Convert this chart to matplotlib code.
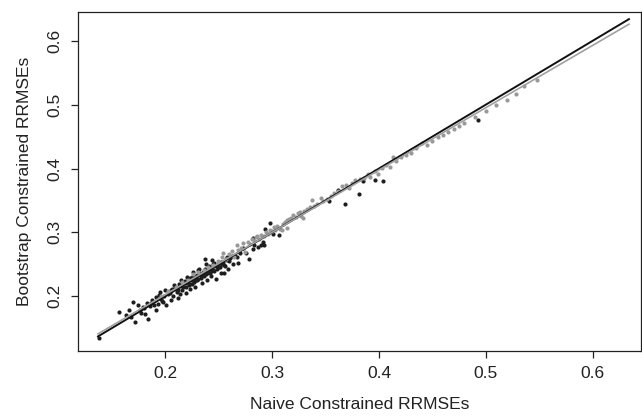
import matplotlib
matplotlib.use("Agg")
import matplotlib.pyplot as plt

plt.rcParams['font.family'] = ['Liberation Sans', 'DejaVu Sans']

# Black series (x = naive, y = bootstrap)
black_x = [0.138, 0.157, 0.163, 0.166, 0.170, 0.172, 0.174, 0.177, 0.180, 0.183, 0.184, 0.188, 0.191, 0.191,
           0.195, 0.198, 0.205, 0.214, 0.223, 0.230, 0.168, 0.176, 0.181, 0.186, 0.189, 0.193, 0.196, 0.199,
           0.201, 0.203, 0.205, 0.207, 0.209, 0.211, 0.212, 0.214, 0.216, 0.218, 0.219, 0.221, 0.222, 0.224,
           0.225, 0.226, 0.227, 0.228, 0.229, 0.231, 0.232, 0.233, 0.234, 0.235, 0.236, 0.237, 0.238, 0.239,
           0.240, 0.241, 0.242, 0.243, 0.244, 0.245, 0.246, 0.247, 0.248, 0.250, 0.251, 0.252, 0.254, 0.255,
           0.256, 0.258, 0.259, 0.261, 0.263, 0.265, 0.267, 0.268, 0.270, 0.273, 0.276, 0.278, 0.282, 0.283,
           0.287, 0.290, 0.291, 0.292, 0.282, 0.293, 0.298, 0.301, 0.306, 0.353, 0.362, 0.368, 0.381, 0.385,
           0.396, 0.404, 0.493, 0.200, 0.208, 0.215, 0.220, 0.226, 0.232, 0.238, 0.244, 0.213, 0.219, 0.223,
           0.229, 0.234, 0.243, 0.249, 0.253, 0.237,
           0.204, 0.206, 0.210, 0.212, 0.215, 0.217, 0.220, 0.222, 0.224, 0.227, 0.228, 0.230, 0.233, 0.235,
           0.237, 0.239, 0.241, 0.242, 0.245, 0.247, 0.250, 0.252, 0.255, 0.257, 0.260, 0.262, 0.197, 0.194,
           0.187, 0.179, 0.218, 0.231, 0.246, 0.258]
black_y = [0.134, 0.175, 0.170, 0.178, 0.191, 0.160, 0.186, 0.173, 0.181, 0.189, 0.165, 0.194, 0.199, 0.178,
           0.207, 0.191, 0.194, 0.204, 0.212, 0.225, 0.168, 0.178, 0.172, 0.184, 0.186, 0.188, 0.196, 0.200,
           0.186, 0.203, 0.209, 0.200, 0.213, 0.207, 0.197, 0.216, 0.210, 0.220, 0.205, 0.223, 0.217, 0.226,
           0.219, 0.231, 0.222, 0.214, 0.232, 0.227, 0.236, 0.229, 0.220, 0.238, 0.232, 0.243, 0.235, 0.226,
           0.240, 0.247, 0.236, 0.231, 0.244, 0.250, 0.239, 0.227, 0.243, 0.252, 0.246, 0.236, 0.254, 0.236,
           0.248, 0.256, 0.243, 0.260, 0.250, 0.263, 0.262, 0.252, 0.268, 0.275, 0.267, 0.259, 0.274, 0.280,
           0.277, 0.280, 0.285, 0.280, 0.291, 0.306, 0.314, 0.297, 0.296, 0.349, 0.366, 0.344, 0.360, 0.380,
           0.382, 0.380, 0.476, 0.210, 0.218, 0.225, 0.230, 0.238, 0.243, 0.250, 0.257, 0.219, 0.214, 0.228,
           0.226, 0.233, 0.240, 0.247, 0.251, 0.259,
           0.205, 0.211, 0.212, 0.209, 0.218, 0.214, 0.222, 0.219, 0.229, 0.224, 0.230, 0.233, 0.231, 0.234,
           0.240, 0.237, 0.242, 0.244, 0.241, 0.248, 0.246, 0.253, 0.249, 0.258, 0.255, 0.263, 0.193, 0.202,
           0.190, 0.183, 0.224, 0.241, 0.252, 0.262]

# Gray series
gray_x = [0.196, 0.203, 0.210, 0.216, 0.221, 0.226, 0.231, 0.236, 0.240, 0.245, 0.249, 0.253, 0.254, 0.257,
          0.260, 0.262, 0.264, 0.267, 0.268, 0.271, 0.273, 0.275, 0.277, 0.279, 0.281, 0.283, 0.285, 0.286,
          0.288, 0.290, 0.292, 0.294, 0.296, 0.298, 0.300, 0.302, 0.303, 0.305, 0.307, 0.309, 0.310, 0.312,
          0.314, 0.314, 0.316, 0.318, 0.320, 0.322, 0.324, 0.326, 0.327, 0.329, 0.330, 0.333, 0.335, 0.337,
          0.339, 0.342, 0.346, 0.348, 0.351, 0.355, 0.358, 0.362, 0.365, 0.369, 0.372, 0.375, 0.378, 0.382,
          0.386, 0.390, 0.392, 0.396, 0.399, 0.403, 0.407, 0.410, 0.413, 0.416, 0.421, 0.425, 0.430, 0.435,
          0.440, 0.445, 0.450, 0.455, 0.460, 0.465, 0.470, 0.475, 0.480, 0.490, 0.500, 0.510, 0.520, 0.528,
          0.536, 0.548]
gray_y = [0.200, 0.208, 0.214, 0.222, 0.226, 0.234, 0.238, 0.241, 0.246, 0.249, 0.255, 0.262, 0.267, 0.259,
          0.266, 0.271, 0.261, 0.280, 0.272, 0.276, 0.283, 0.270, 0.285, 0.281, 0.289, 0.286, 0.292, 0.294,
          0.289, 0.296, 0.294, 0.300, 0.298, 0.304, 0.302, 0.308, 0.303, 0.310, 0.306, 0.303, 0.313, 0.316,
          0.307, 0.319, 0.321, 0.323, 0.327, 0.324, 0.330, 0.332, 0.326, 0.322, 0.333, 0.336, 0.339, 0.350,
          0.342, 0.345, 0.354, 0.349, 0.353, 0.357, 0.362, 0.364, 0.373, 0.374, 0.370, 0.377, 0.382, 0.383,
          0.385, 0.392, 0.387, 0.396, 0.391, 0.401, 0.405, 0.402, 0.418, 0.412, 0.418, 0.421, 0.425, 0.432,
          0.440, 0.437, 0.443, 0.449, 0.452, 0.457, 0.462, 0.466, 0.472, 0.481, 0.490, 0.499, 0.508, 0.517,
          0.530, 0.539]

# Reference lines (endpoints in data units)
black_line_x = [0.137, 0.634]
black_line_y = [0.137, 0.634]
gray_line_x = [0.137, 0.634]
gray_line_y = [0.141, 0.626]

ticks = [0.2, 0.3, 0.4, 0.5, 0.6]
tick_labels = ["0.2", "0.3", "0.4", "0.5", "0.6"]

fig = plt.figure(figsize=(6.42, 4.17), dpi=100)
ax = fig.add_axes([0.121, 0.158, 0.877, 0.813])

ax.scatter(black_x, black_y, s=9, color="#1e1e1e", linewidths=0, zorder=2)
ax.scatter(gray_x, gray_y, s=9, color="#999999", linewidths=0, zorder=3)
ax.plot(black_line_x, black_line_y, color="#111111", lw=1.4, zorder=4)
ax.plot(gray_line_x, gray_line_y, color="#a0a0a0", lw=1.2, zorder=5)

ax.set_xlim(0.118, 0.645)
ax.set_ylim(0.114, 0.645)
ax.set_xticks(ticks)
ax.set_xticklabels(tick_labels)
ax.set_yticks(ticks)
ax.set_yticklabels(tick_labels, rotation=90, va="center")
ax.tick_params(axis="both", direction="out", length=5, width=0.9, labelsize=12.5, pad=6, colors="#222222")
for sp in ax.spines.values():
    sp.set_linewidth(0.9)
    sp.set_color("#222222")

ax.set_xlabel("Naive Constrained RRMSEs", fontsize=12.5, labelpad=11, color="#222222")
ax.set_ylabel("Bootstrap Constrained RRMSEs", fontsize=12.5, labelpad=11, color="#222222")

fig.savefig("out.png", dpi=100)
